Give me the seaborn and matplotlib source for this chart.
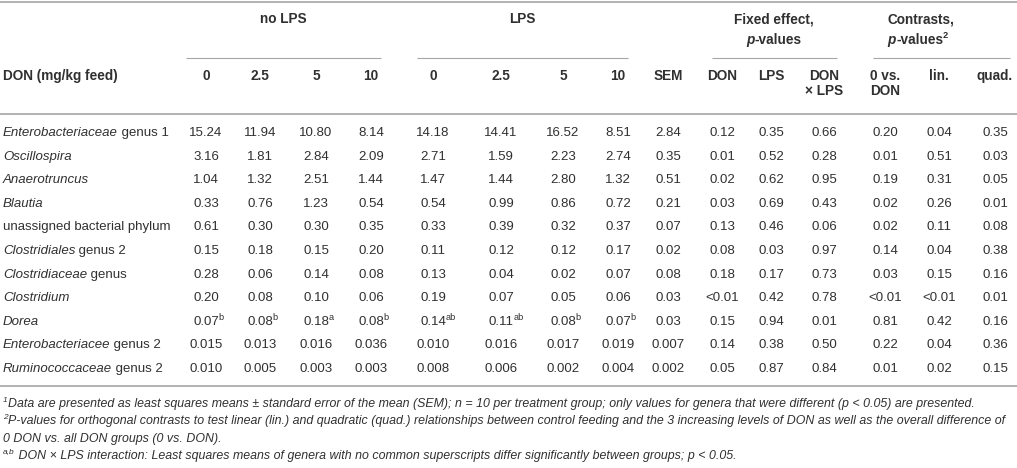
import matplotlib
matplotlib.use("Agg")
import matplotlib.pyplot as plt
import seaborn as sns

# --- table content -------------------------------------------------------
genus_italic = ["Enterobacteriaceae", "Oscillospira", "Anaerotruncus", "Blautia", "",
                "Clostridiales", "Clostridiaceae", "Clostridium", "Dorea",
                "Enterobacteriacee", "Ruminococcaceae"]
genus_plain = [" genus 1", "", "", "", "unassigned bacterial phylum",
               " genus 2", " genus", "", "", " genus 2", " genus 2"]

don_levels = ["0", "2.5", "5", "10"]

no_lps = [
    ["15.24", "11.94", "10.80", "8.14"],
    ["3.16", "1.81", "2.84", "2.09"],
    ["1.04", "1.32", "2.51", "1.44"],
    ["0.33", "0.76", "1.23", "0.54"],
    ["0.61", "0.30", "0.30", "0.35"],
    ["0.15", "0.18", "0.15", "0.20"],
    ["0.28", "0.06", "0.14", "0.08"],
    ["0.20", "0.08", "0.10", "0.06"],
    ["0.07", "0.08", "0.18", "0.08"],
    ["0.015", "0.013", "0.016", "0.036"],
    ["0.010", "0.005", "0.003", "0.003"],
]
lps = [
    ["14.18", "14.41", "16.52", "8.51"],
    ["2.71", "1.59", "2.23", "2.74"],
    ["1.47", "1.44", "2.80", "1.32"],
    ["0.54", "0.99", "0.86", "0.72"],
    ["0.33", "0.39", "0.32", "0.37"],
    ["0.11", "0.12", "0.12", "0.17"],
    ["0.13", "0.04", "0.02", "0.07"],
    ["0.19", "0.07", "0.05", "0.06"],
    ["0.14", "0.11", "0.08", "0.07"],
    ["0.010", "0.016", "0.017", "0.019"],
    ["0.008", "0.006", "0.002", "0.004"],
]
# superscripts (Dorea row only)
dorea_row = 8
dorea_sup_no_lps = ["b", "b", "a", "b"]
dorea_sup_lps = ["ab", "ab", "b", "b"]

sem = ["2.84", "0.35", "0.51", "0.21", "0.07", "0.02", "0.08", "0.03", "0.03", "0.007", "0.002"]
p_don = ["0.12", "0.01", "0.02", "0.03", "0.13", "0.08", "0.18", "<0.01", "0.15", "0.14", "0.05"]
p_lps = ["0.35", "0.52", "0.62", "0.69", "0.46", "0.03", "0.17", "0.42", "0.94", "0.38", "0.87"]
p_inter = ["0.66", "0.28", "0.95", "0.43", "0.06", "0.97", "0.73", "0.78", "0.01", "0.50", "0.84"]
c_zero_vs = ["0.20", "0.01", "0.19", "0.02", "0.02", "0.14", "0.03", "<0.01", "0.81", "0.22", "0.01"]
c_lin = ["0.04", "0.51", "0.31", "0.26", "0.11", "0.04", "0.15", "<0.01", "0.42", "0.04", "0.02"]
c_quad = ["0.35", "0.03", "0.05", "0.01", "0.08", "0.38", "0.16", "0.01", "0.16", "0.36", "0.15"]

footnotes = [
    ("1", "Data are presented as least squares means \u00b1 standard error of the mean (SEM); n = 10 per "
          "treatment group; only values for genera that were different (p < 0.05) are presented."),
    ("2", "P-values for orthogonal contrasts to test linear (lin.) and quadratic (quad.) relationships between "
          "control feeding and the 3 increasing levels of DON as well as the overall difference of"),
    ("", "0 DON vs. all DON groups (0 vs. DON)."),
    ("a,b", " DON \u00d7 LPS interaction: Least squares means of genera with no common superscripts differ "
            "significantly between groups; p < 0.05."),
]

# --- layout (pixels) -----------------------------------------------------
W, H = 1017, 468
col_x = [206, 260, 316, 371, 433, 501, 563, 618, 668, 722, 771, 824, 885, 939, 995]
row_y0, row_dy = 133, 23.6
TXT = "#303030"
RULE = "#a6a6a6"
FS = 9.5

sns.set_theme(style="white")
plt.rcParams["font.family"] = ["Liberation Sans", "DejaVu Sans"]

fig = plt.figure(figsize=(W / 100, H / 100), dpi=100)
ax = fig.add_axes([0, 0, 1, 1])
ax.set_xlim(0, W)
ax.set_ylim(H, 0)
ax.axis("off")
renderer = fig.canvas.get_renderer()


def text_width(s, **kw):
    t = ax.text(0, 0, s, **kw)
    w = t.get_window_extent(renderer).width
    t.remove()
    return w


def runs(x, y, parts, ha="left"):
    """parts: list of (string, props, dy)"""
    widths = [text_width(s, **p) if s else 0 for s, p, _ in parts]
    total = sum(widths)
    cx = x - total / 2 if ha == "center" else x
    for (s, p, dy), w in zip(parts, widths):
        if s:
            ax.text(cx, y + dy, s, va="center", ha="left", color=TXT, **p)
        cx += w


reg = dict(fontsize=FS)
bold = dict(fontsize=FS + 0.3, fontweight="bold")
bold_it = dict(fontsize=FS + 0.3, fontweight="bold", fontstyle="italic")
it = dict(fontsize=FS, fontstyle="italic")
sup = dict(fontsize=FS * 0.7)
bold_sup = dict(fontsize=FS * 0.7, fontweight="bold")

# rules
ax.plot([0, W], [2, 2], color=RULE, lw=1.2, solid_capstyle="butt")
ax.plot([0, W], [114, 114], color=RULE, lw=1.2, solid_capstyle="butt")
ax.plot([0, W], [386, 386], color=RULE, lw=1.2, solid_capstyle="butt")
for x0, x1 in [(186, 381), (417, 628), (712, 837), (873, 1010)]:
    ax.plot([x0, x1], [58, 58], color=RULE, lw=0.8, solid_capstyle="butt")

# group headers
ax.text(283, 19, "no LPS", ha="center", va="center", color=TXT, **bold)
ax.text(522, 19, "LPS", ha="center", va="center", color=TXT, **bold)
ax.text(774, 19, "Fixed effect,", ha="center", va="center", color=TXT, **bold)
runs(774, 40, [("p", bold_it, 0), ("-values", bold, 0)], ha="center")
ax.text(921, 19, "Contrasts,", ha="center", va="center", color=TXT, **bold)
runs(918, 40, [("p", bold_it, 0), ("-values", bold, 0), ("2", bold_sup, -4)], ha="center")

# column headers
hy = 76
ax.text(3, hy, "DON (mg/kg feed)", ha="left", va="center", color=TXT, **bold)
col_heads = don_levels + don_levels + ["SEM", "DON", "LPS", "DON", "0 vs.", "lin.", "quad."]
for x, h in zip(col_x, col_heads):
    ax.text(x, hy, h, ha="center", va="center", color=TXT, **bold)
ax.text(col_x[11], hy + 15, "\u00d7 LPS", ha="center", va="center", color=TXT, **bold)
ax.text(col_x[12], hy + 15, "DON", ha="center", va="center", color=TXT, **bold)

# body
for i in range(len(genus_italic)):
    y = row_y0 + i * row_dy
    runs(3, y, [(genus_italic[i], it, 0), (genus_plain[i], reg, 0)])
    cells = no_lps[i] + lps[i] + [sem[i], p_don[i], p_lps[i], p_inter[i],
                                  c_zero_vs[i], c_lin[i], c_quad[i]]
    for j, (x, v) in enumerate(zip(col_x, cells)):
        if i == dorea_row and j < 8:
            s = (dorea_sup_no_lps + dorea_sup_lps)[j]
            w = text_width(v, **reg)
            ax.text(x - w / 2, y, v, ha="left", va="center", color=TXT, **reg)
            ax.text(x + w / 2, y - 4, s, ha="left", va="center", color=TXT, **sup)
        else:
            ax.text(x, y, v, ha="center", va="center", color=TXT, **reg)

# footnotes (italic), scaled so the long line fits the width
foot = dict(fontstyle="italic", fontsize=8)
base_w = text_width(footnotes[1][1], **foot)
foot["fontsize"] = 8 * 1003 / base_w
foot_sup = dict(foot, fontsize=foot["fontsize"] * 0.68)
for k, (mark, line) in enumerate(footnotes):
    y = 404 + k * 17.3
    runs(3, y, [(mark, foot_sup, -4), (line, foot, 0)])

fig.savefig("out.png", dpi=100)
